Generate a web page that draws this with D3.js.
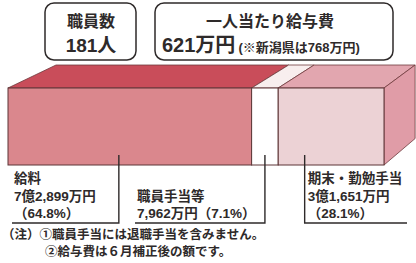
<!DOCTYPE html>
<html>
<head>
<meta charset="utf-8">
<script src="https://cdn.jsdelivr.net/npm/d3@7"></script>
<style>
  body { margin: 0; background: #fff; }
  svg { display: block; font-family: "Liberation Sans", "Noto Sans CJK JP", sans-serif; }
</style>
</head>
<body>
<svg id="chart" width="416" height="263"></svg>
<script>
"use strict";

// Données du graphique
var items = ["給料", "職員手当等", "期末・勤勉手当"];
var values = [72899, 7962, 31651];
var amounts = ["7億2,899万円", "7,962万円", "3億1,651万円"];
var shares = ["64.8", "7.1", "28.1"];
var staffLabel = "職員数";
var staffCount = "181人";
var perHeadLabel = "一人当たり給与費";
var perHeadValue = "621万円";
var perHeadNote = "(※新潟県は768万円)";
var notes = ["（注）①職員手当には退職手当を含みません。", "②給与費は６月補正後の額です。"];

var svg = d3.select("#chart");
var ink = "#2e2a2a";

// Couleurs : face avant, dessus, côté
var fronts = ["#da878d", "#ffffff", "#ecd2d5"];
var tops = ["#c94d5a", "#f8eeee", "#e2a6af"];
var sideColor = "#e09ca7";

var total = d3.sum(values);
var x = d3.scaleLinear().domain([0, total]).range([8, 384]);
var yTop = 88, yBot = 165;

// Perspective : point de fuite et facteur d'échelle de la face arrière
var vp = [1075, -423], s = 0.955;
function back(p) {
  return [vp[0] + s * (p[0] - vp[0]), vp[1] + s * (p[1] - vp[1])];
}
function pts(arr) {
  return arr.map(function (p) { return p.join(","); }).join(" ");
}

var cum = d3.cumsum(values);
var segs = values.map(function (v, i) {
  return { x0: x(cum[i] - v), x1: x(cum[i]), i: i };
});

var bar = svg.append("g");

// Dessus des segments
bar.selectAll("polygon.top")
  .data(segs).enter()
  .append("polygon")
  .attr("class", "top")
  .attr("points", function (d) {
    var a = [d.x0, yTop], b = [d.x1, yTop];
    return pts([a, b, back(b), back(a)]);
  })
  .attr("fill", function (d) { return tops[d.i]; })
  .attr("stroke", "#6e3a3c")
  .attr("stroke-width", 0.8);

// Côté droit
var r0 = [x(total), yTop], r1 = [x(total), yBot];
bar.append("polygon")
  .attr("points", pts([r0, back(r0), back(r1), r1]))
  .attr("fill", sideColor)
  .attr("stroke", "#6e3a3c")
  .attr("stroke-width", 0.8);

// Faces avant
bar.selectAll("rect.front")
  .data(segs).enter()
  .append("rect")
  .attr("class", "front")
  .attr("x", function (d) { return d.x0; })
  .attr("y", yTop)
  .attr("width", function (d) { return d.x1 - d.x0; })
  .attr("height", yBot - yTop)
  .attr("fill", function (d) { return fronts[d.i]; })
  .attr("stroke", "#5c3436")
  .attr("stroke-width", 1);

// Lignes de rappel et étiquettes
var leadFrac = [0.455, 0.5, 0.25];
var side = ["left", "left", "right"];
var lineY = 223;
var ends = [12, 135, 407];

var lab = svg.append("g").attr("fill", ink).style("font-weight", 700).style("font-size", "13.5px");

segs.forEach(function (d, i) {
  var lx = d.x0 + (d.x1 - d.x0) * leadFrac[i];
  svg.append("path")
    .attr("d", "M" + lx + "," + (yBot - 10) + "V" + lineY + "H" + ends[i])
    .attr("fill", "none")
    .attr("stroke", ink)
    .attr("stroke-width", 1.4);

  var tx = side[i] === "left" ? ends[i] + 2 : lx + 3;
  var lines;
  if (i === 1) {
    lines = [items[i], amounts[i] + "（" + shares[i] + "%）"];
  } else {
    lines = [items[i], amounts[i], "（" + shares[i] + "%）"];
  }
  var y0 = lineY - 5 - (lines.length - 1) * 17.5;
  lab.selectAll(null)
    .data(lines).enter()
    .append("text")
    .attr("x", tx)
    .attr("y", function (t, k) { return y0 + k * 17.5; })
    .text(function (t) { return t; });
});

// Encadrés du haut
var boxes = [
  { x: 45, w: 91 },
  { x: 155, w: 238 }
];
svg.selectAll("rect.box")
  .data(boxes).enter()
  .append("rect")
  .attr("x", function (d) { return d.x; })
  .attr("y", 3)
  .attr("width", function (d) { return d.w; })
  .attr("height", 57)
  .attr("rx", 9)
  .attr("fill", "#fff")
  .attr("stroke", ink)
  .attr("stroke-width", 1.5);

var head = svg.append("g").attr("fill", ink).style("font-weight", 700);
head.append("text").attr("x", 91).attr("y", 27).attr("text-anchor", "middle")
  .style("font-size", "16px").text(staffLabel);
head.append("text").attr("x", 91).attr("y", 52).attr("text-anchor", "middle")
  .style("font-size", "19px").text(staffCount);
head.append("text").attr("x", 270).attr("y", 27).attr("text-anchor", "middle")
  .style("font-size", "16px").text(perHeadLabel);
var t2 = head.append("text").attr("x", 162).attr("y", 52);
t2.append("tspan").style("font-size", "20px").text(perHeadValue);
t2.append("tspan").attr("dx", 3).style("font-size", "13px").text(perHeadNote);

// Notes
svg.append("g").attr("fill", ink).style("font-size", "12.5px").style("font-weight", 700)
  .selectAll("text")
  .data(notes).enter()
  .append("text")
  .attr("x", function (d, i) { return i === 0 ? 2 : 45; })
  .attr("y", function (d, i) { return 239 + i * 17; })
  .text(function (d) { return d; });
</script>
</body>
</html>
